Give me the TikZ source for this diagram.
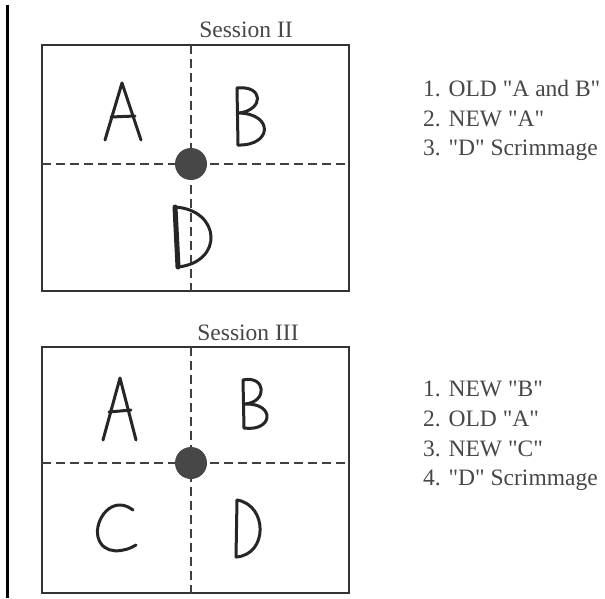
\documentclass[tikz,border=0pt]{standalone}
\usepackage{fontspec}
\setmainfont{Liberation Serif}[Ligatures=TeXOff]
\begin{document}
\begin{tikzpicture}[x=1pt,y=-1pt,
  frame/.style={draw=black!80,line width=1.8pt},
  guide/.style={draw=black!75,line width=1.6pt,dash pattern=on 9pt off 5pt},
  hand/.style={draw=black!85,line width=3pt,line cap=round,line join=round},
  ball/.style={fill=black!72},
  lbl/.style={font=\fontsize{23.5}{28}\selectfont,text=black!72,inner sep=0pt},
  item/.style={lbl,anchor=base west}]
\useasboundingbox (0,0) rectangle (605,598);
\fill[white] (0,0) rectangle (605,598);
% left margin rule
\draw[black,line width=3pt] (7,5) -- (7,598);

% ---------- Session II ----------
\node[lbl,anchor=base] (t2) at (246,37) {Session II};
\draw[frame] (42,45) rectangle (349,291);
\draw[guide] (191,45) -- (191,291);
\draw[guide] (42,164) -- (349,164);
\fill[ball] (191,164) circle (16);
% A
\draw[hand] (105,140) -- (122,83) -- (141,140);
\draw[hand] (111,117) -- (135,116);
% B
\draw[hand] (237,88) -- (238,145);
\draw[hand] (237,88) .. controls (264,85) and (264,110) .. (239,113)
  .. controls (274,114) and (272,146) .. (238,145);
% D
\draw[hand,line width=5pt] (175,207) -- (178,267);
\draw[hand] (175,207) .. controls (221,210) and (224,262) .. (178,267);

\node[item] (l21) at (423,96)  {1. OLD "A and B"};
\node[item] (l22) at (423,126) {2. NEW "A"};
\node[item] (l23) at (423,155) {3. "D" Scrimmage};

% ---------- Session III ----------
\node[lbl,anchor=base] (t3) at (248,340) {Session III};
\draw[frame] (42,347) rectangle (349,593);
\draw[guide] (191,347) -- (191,593);
\draw[guide] (42,463) -- (349,463);
\fill[ball] (191,463) circle (16);
% A
\draw[hand] (103,440) -- (120,378) -- (136,440);
\draw[hand] (109,412) -- (131,410);
% B
\draw[hand] (243,380) -- (244,428);
\draw[hand] (243,380) .. controls (266,375) and (268,402) .. (245,404)
  .. controls (276,403) and (273,432) .. (244,428);
% C
\draw[hand] (133,510) .. controls (112,494) and (94,520) .. (98,537)
  .. controls (103,556) and (125,552) .. (136,545);
% D
\draw[hand] (237,500) -- (236,557);
\draw[hand] (237,500) .. controls (268,505) and (268,555) .. (236,557);

\node[item] (l31) at (423,396) {1. NEW "B"};
\node[item] (l32) at (423,426) {2. OLD "A"};
\node[item] (l33) at (423,456) {3. NEW "C"};
\node[item] (l34) at (423,485) {4. "D" Scrimmage};
\end{tikzpicture}
\end{document}
